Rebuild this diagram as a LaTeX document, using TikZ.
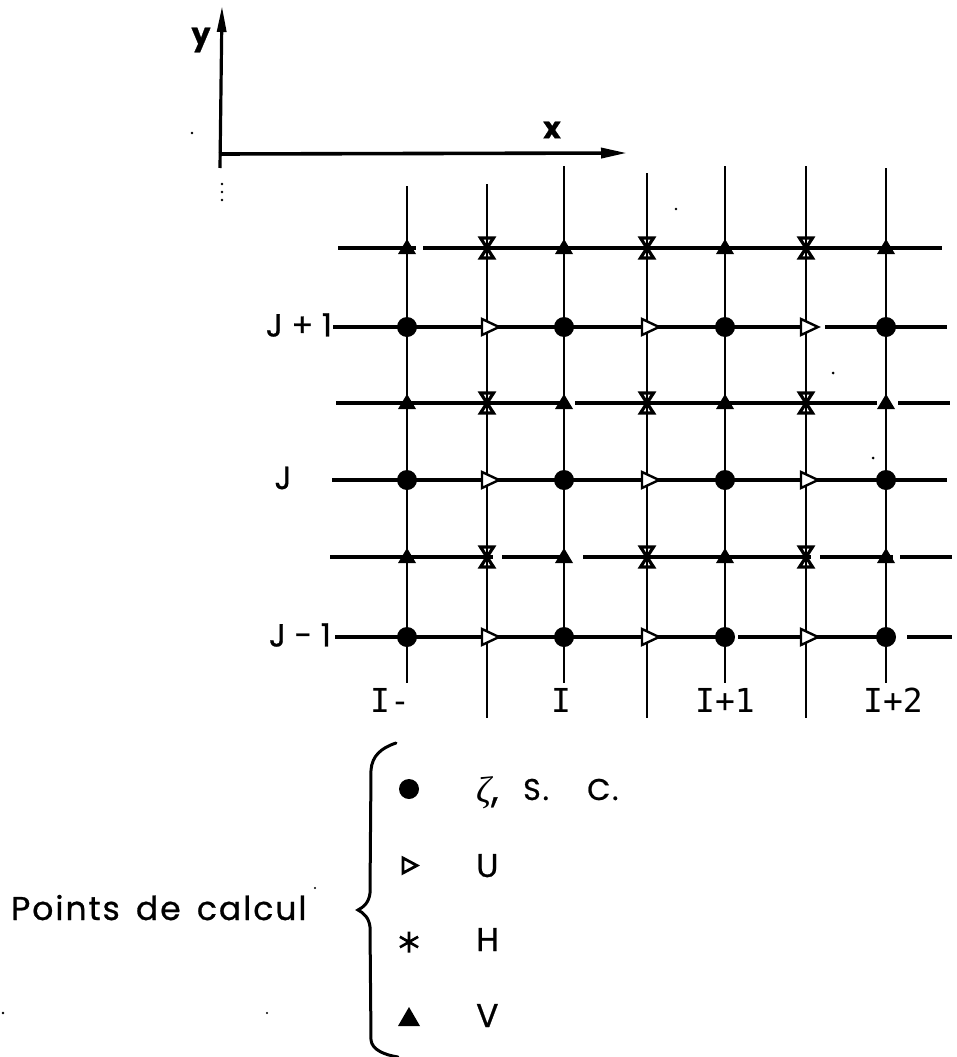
\documentclass[tikz,border=0pt]{standalone}
\usepackage{fontspec}
\setmainfont{Poppins}[FakeBold=0.8]
\newfontfamily\widefont{Poppins}[LetterSpace=6, WordSpace=1.5, FakeBold=0.8]
\newfontfamily\labmono{DejaVu Sans Mono}
\newfontfamily\grk{Liberation Serif}
\usetikzlibrary{arrows.meta}
\tikzset{
  hline/.style={line width=3.2pt},
  vline/.style={line width=2.4pt},
  axis/.style={line width=3.6pt},
  lbl/.style={inner sep=0pt, font=\fontsize{32}{36}\selectfont},
  leg/.style={inner sep=0pt, anchor=base west, font=\widefont\fontsize{33}{36}\selectfont},
  ilbl/.style={inner sep=0pt, font=\labmono\fontsize{33}{36}\selectfont},
  axlbl/.style={inner sep=0pt, font=\bfseries\fontsize{30}{34}\selectfont},
  cpt/.pic={\fill (0,0) circle (10);},
  upt/.pic={\draw[fill=white, line width=2.4pt, line join=miter] (-7,-8) -- (10,0) -- (-7,8) -- cycle;},
  vpt/.pic={\fill (0,-9) -- (9,6) -- (-9,6) -- cycle;},
  hpt/.pic={\draw[line width=3.2pt, line join=miter] (-6.5,-10) -- (6.5,-10) -- (-6.5,10) -- (6.5,10) -- cycle;},
  astpt/.pic={\draw[line width=2.6pt] (0,-10.5) -- (0,10.5) (-9.1,-5.25) -- (9.1,5.25) (-9.1,5.25) -- (9.1,-5.25);},
  noise/.style={fill=black}
}
\begin{document}
\begin{tikzpicture}[x=1pt,y=-1pt]
\useasboundingbox (0,0) rectangle (957,1057);

% axes
\coordinate (O) at (219,154);
\coordinate (xe) at (627,153);
\coordinate (ye) at (222,6);
\coordinate (yb) at (220,168);
\draw[axis, -{Triangle[length=26pt,width=10pt]}] (O) -- (xe);
\draw[axis, line width=3.2pt, -{Triangle[length=26pt,width=9pt]}] (yb) -- (ye);
\node[axlbl] (ylab) at (201,40) {y};
\node[axlbl] (xlab) at (552,130) {x};
\foreach \yy in {184,192,200} \fill (222,\yy) circle (1.3);

% vertical grid lines
\foreach \xx/\top/\bot [count=\k] in {407/186/683, 487/184/718, 564/166/683, 647/173/718, 725/166/683, 806/166/718, 886/168/683}{
  \coordinate (vt\k) at (\xx,\top);
  \coordinate (vb\k) at (\xx,\bot);
  \draw[vline] (vt\k) -- (vb\k);
}

% horizontal grid lines (with the gaps of the original)
\draw[hline] (338,248) -- (416,248) (423,248) -- (942,248);
\draw[hline] (333,327) -- (817,327) (825,327) -- (947,327);
\draw[hline] (336,403) -- (567,403) (575,403) -- (877,403) (898,403) -- (950,403);
\draw[hline] (332,480) -- (947,480);
\draw[hline] (330,557) -- (493,557) (502,557) -- (568,557) (583,557) -- (811,557) (820,557) -- (893,557) (900,557) -- (952,557);
\draw[hline] (335,637) -- (733,637) (738,637) -- (895,637) (907,637) -- (952,637);

% markers
\foreach \yy in {327,480,637}{
  \foreach \xx in {407,564,725,886} \pic at (\xx,\yy) {cpt};
  \foreach \xx in {489,649,808} \pic at (\xx,\yy) {upt};
}
\foreach \yy in {248,403,557}{
  \foreach \xx in {407,564,725,886} \pic at (\xx,\yy) {vpt};
  \foreach \xx in {487,647,806} \pic at (\xx,\yy) {hpt};
}

% row labels
\node[lbl] (jp) at (299,325) {J + 1};
\node[lbl] (j) at (283,478) {J};
\node[lbl] (jm) at (300,635) {J - 1};

% column labels
\node[ilbl] (im) at (390,700) {I-};
\node[ilbl] (i) at (561,700) {I};
\node[ilbl] (ip) at (725,700) {I+1};
\node[ilbl] (ipp) at (893,700) {I+2};

% legend brace
\draw[line width=3pt, line cap=round] (396,743) .. controls (381,748) and (372,756) .. (371,770) -- (370,893) .. controls (369,902) and (364,907) .. (358,910) .. controls (364,913) and (369,918) .. (370,927) -- (371,1040) .. controls (372,1050) and (385,1055) .. (398,1057);

% legend symbols
\pic at (409,789) {cpt};
\draw[line width=2.8pt, line join=miter] (403,858) -- (417,865.5) -- (403,873) -- cycle;
\pic at (409,942) {astpt};
\fill (409,1007) -- (420,1026) -- (398,1026) -- cycle;

% legend texts
\node[leg, font=\widefont\fontsize{37}{40}\selectfont] (zeta) at (476,802) {{\grk\itshape ζ},};
\node[leg, font=\widefont\fontsize{30}{33}\selectfont] (s) at (523,800) {S.};
\node[leg, font=\widefont\fontsize{30}{33}\selectfont] (c) at (587,800) {C.};
\node[leg] (u) at (476,877) {U};
\node[leg] (h) at (476,951) {H};
\node[leg] (v) at (476,1027) {V};
\node[leg] (pts) at (11,920) {Points de calcul};

% scattered specks of the scan
\fill[noise] (192,133) circle (1.3);
\fill[noise] (676,209) circle (1.3);
\fill[noise] (833,373) circle (1.5);
\fill[noise] (873,458) circle (1.5);
\fill[noise] (315,888) circle (1.1);
\fill[noise] (3,1013) circle (1.3);
\fill[noise] (267,1013) circle (1.1);
\end{tikzpicture}
\end{document}
